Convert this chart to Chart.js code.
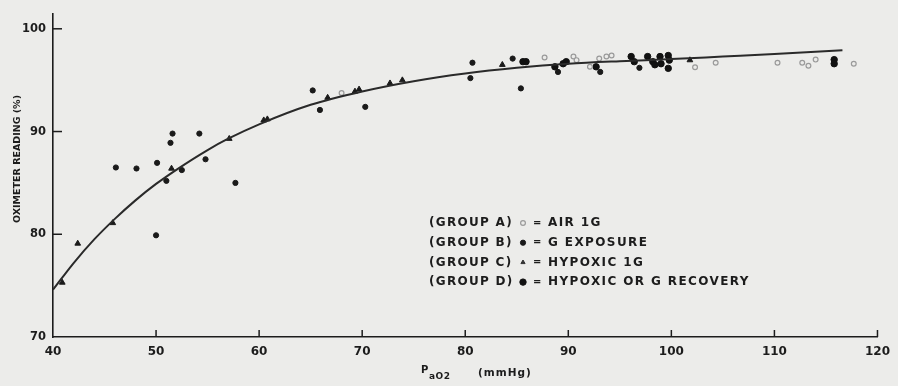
<!DOCTYPE html>
<html>
<head>
<meta charset="utf-8">
<script src="https://cdn.jsdelivr.net/npm/chart.js@4.4.0/dist/chart.umd.min.js"></script>
<style>
html,body{margin:0;padding:0;background:#ececea;}
#wrap{width:898px;height:386px;position:relative;}
</style>
</head>
<body>
<div id="wrap"><canvas id="c" width="898" height="386"></canvas></div>
<script>
// ---- data ----
const xTicks = [40, 50, 60, 70, 80, 90, 100, 110, 120];
const yTicks = [70, 80, 90, 100];

// Group A: Air 1G (open circles)
const groupA_x = [68.0, 87.7, 90.5, 90.8, 92.1, 93.0, 93.7, 94.2, 102.3, 104.3, 110.3, 112.7, 113.3, 114.0, 117.7];
const groupA_y = [93.75, 97.2, 97.3, 96.95, 96.3, 97.1, 97.3, 97.4, 96.25, 96.7, 96.7, 96.7, 96.4, 97.0, 96.6];

// Group B: G exposure (filled dots)
const groupB_x = [46.1, 48.1, 50.1, 50.0, 51.0, 51.4, 51.6, 52.5, 54.2, 54.8, 57.7, 65.2, 65.9, 70.3, 80.7, 80.5, 84.6, 85.4, 89.0, 93.1, 96.9];
const groupB_y = [86.5, 86.4, 86.95, 79.9, 85.2, 88.9, 89.8, 86.25, 89.8, 87.3, 85.0, 94.0, 92.1, 92.4, 96.7, 95.2, 97.1, 94.2, 95.8, 95.8, 96.2];

// Group C: Hypoxic 1G (triangles)
const groupC_x = [40.9, 42.4, 45.8, 51.5, 57.1, 60.45, 60.8, 66.65, 69.3, 69.7, 72.7, 73.9, 83.6, 101.8];
const groupC_y = [75.3, 79.1, 81.1, 86.4, 89.3, 91.1, 91.2, 93.3, 93.9, 94.1, 94.7, 95.0, 96.5, 96.95];

// Group D: Hypoxic or G recovery (larger dots)
const groupD_x = [85.6, 85.9, 88.7, 89.5, 89.8, 92.7, 96.1, 96.4, 97.7, 98.2, 98.4, 98.9, 99.0, 99.7, 99.8, 99.7, 115.8, 115.8];
const groupD_y = [96.8, 96.8, 96.3, 96.6, 96.8, 96.3, 97.3, 96.8, 97.3, 96.8, 96.5, 97.3, 96.6, 97.4, 96.95, 96.15, 97.0, 96.6];

// Fitted curve
const curve_x = [40, 42, 44, 46, 48, 50, 52, 55, 57, 60, 65, 70, 75, 80, 85, 90, 95, 100, 105, 110, 116.6];
const curve_y = [74.6, 77.2, 79.5, 81.5, 83.3, 84.9, 86.3, 88.2, 89.3, 90.7, 92.6, 93.9, 94.9, 95.65, 96.2, 96.6, 96.85, 97.05, 97.3, 97.55, 97.9];

const legendLabels = ["(GROUP A)", "(GROUP B)", "(GROUP C)", "(GROUP D)"];
const legendTexts = ["AIR 1G", "G EXPOSURE", "HYPOXIC 1G", "HYPOXIC OR G RECOVERY"];
const yTitle = "OXIMETER READING (%)";
const xTitleMain = "P";
const xTitleSub = "aO2";
const xTitleUnit = "(mmHg)";

const pts = (xs, ys) => xs.map((x, i) => ({x: x, y: ys[i]}));

const INK = '#1c1c1c';
const FONT = '"DejaVu Sans", sans-serif';

const styleA = {pointStyle: 'circle', radius: 2.4, bg: 'rgba(235,235,233,1)', border: '#9a9a9a', bw: 1.2};
const styleB = {pointStyle: 'circle', radius: 2.6, bg: '#1a1a1a', border: '#1a1a1a', bw: 1};
const styleC = {pointStyle: 'triangle', radius: 3.3, bg: '#1a1a1a', border: '#1a1a1a', bw: 1};
const styleD = {pointStyle: 'circle', radius: 3.2, bg: '#111', border: '#111', bw: 1};
const legendStyles = [styleA, styleB, {pointStyle:'triangle', radius: 2.4, bg:'#333', border:'#333', bw:1}, styleD];

function ds(label, data, s) {
  return {type: 'scatter', label, data, pointStyle: s.pointStyle, pointRadius: s.radius,
    pointBackgroundColor: s.bg, pointBorderColor: s.border, pointBorderWidth: s.bw, showLine: false};
}

function spaced(ctx, text, x, y, spacing) {
  if ('letterSpacing' in ctx) {
    ctx.letterSpacing = spacing + 'px';
    ctx.fillText(text, x, y);
    ctx.letterSpacing = '0px';
    return;
  }
  let cx = x;
  for (const ch of text) { ctx.fillText(ch, cx, y); cx += ctx.measureText(ch).width + spacing; }
}

const decor = {
  id: 'decor',
  beforeDraw(chart) {
    const ctx = chart.ctx;
    ctx.save();
    ctx.fillStyle = '#ececea';
    ctx.fillRect(0, 0, chart.width, chart.height);
    ctx.restore();
  },
  afterDraw(chart) {
    const ctx = chart.ctx;
    const xs = chart.scales.x, ys = chart.scales.y;
    const a = chart.chartArea;
    ctx.save();
    ctx.strokeStyle = INK;
    ctx.lineWidth = 1.5;
    xTicks.forEach(v => {
      if (v === xTicks[0]) return;
      const px = xs.getPixelForValue(v);
      ctx.beginPath(); ctx.moveTo(px, a.bottom); ctx.lineTo(px, a.bottom - 7); ctx.stroke();
    });
    yTicks.forEach(v => {
      if (v === yTicks[0]) return;
      const py = ys.getPixelForValue(v);
      ctx.beginPath(); ctx.moveTo(a.left, py); ctx.lineTo(a.left + 9, py); ctx.stroke();
    });
    ctx.fillStyle = INK;
    // y title
    ctx.save();
    ctx.translate(18, 159);
    ctx.rotate(-Math.PI / 2);
    ctx.font = 'bold 9.5px ' + FONT;
    ctx.textAlign = 'center';
    ctx.textBaseline = 'middle';
    ctx.fillText(yTitle, 0, 0);
    ctx.restore();
    // x title
    ctx.textBaseline = 'alphabetic';
    ctx.textAlign = 'left';
    ctx.font = 'bold 10px ' + FONT;
    ctx.fillText(xTitleMain, 421, 373);
    ctx.font = 'bold 9px ' + FONT;
    spaced(ctx, xTitleSub, 429, 379, 0.5);
    ctx.font = 'bold 10.5px ' + FONT;
    spaced(ctx, xTitleUnit, 478, 376, 1);
    // legend
    ctx.textBaseline = 'middle';
    legendLabels.forEach((lab, i) => {
      const y = 223 + i * 19.7;
      ctx.fillStyle = INK;
      ctx.textAlign = 'left';
      ctx.font = 'bold 12px ' + FONT;
      spaced(ctx, lab, 429, y, 1.3);
      spaced(ctx, legendTexts[i], 548, y, 1.4);
      ctx.font = 'bold 10px ' + FONT;
      ctx.fillText('=', 533, y);
      const s = legendStyles[i];
      ctx.fillStyle = s.bg; ctx.strokeStyle = s.border; ctx.lineWidth = s.bw;
      Chart.helpers.drawPoint(ctx, {pointStyle: s.pointStyle, radius: s.radius, rotation: 0, borderWidth: s.bw}, 523, y);
    });
    ctx.restore();
  }
};

new Chart(document.getElementById('c'), {
  type: 'scatter',
  data: {
    datasets: [
      {type: 'line', label: 'Fit', data: pts(curve_x, curve_y), borderColor: '#2a2a2a', borderWidth: 2,
        pointRadius: 0, cubicInterpolationMode: 'monotone', fill: false},
      ds('Group A', pts(groupA_x, groupA_y), styleA),
      ds('Group B', pts(groupB_x, groupB_y), styleB),
      ds('Group C', pts(groupC_x, groupC_y), styleC),
      ds('Group D', pts(groupD_x, groupD_y), styleD)
    ]
  },
  options: {
    responsive: false,
    animation: false,
    devicePixelRatio: 1,
    layout: {padding: {top: 10, right: 20, left: 0, bottom: 0}},
    plugins: {legend: {display: false}, tooltip: {enabled: false}},
    scales: {
      x: {
        type: 'linear', min: 40, max: 120,
        afterFit(s) { s.height = 49; },
        afterBuildTicks(s) { s.ticks = xTicks.map(v => ({value: v})); },
        grid: {display: false, drawTicks: false},
        border: {display: true, color: INK, width: 1.6},
        ticks: {padding: 8, color: INK, font: {family: FONT, size: 12, weight: 'bold'}, maxRotation: 0}
      },
      y: {
        type: 'linear', min: 70, max: 101.45,
        afterFit(s) { s.width = 53; },
        afterBuildTicks(s) { s.ticks = yTicks.map(v => ({value: v})); },
        grid: {display: false, drawTicks: false},
        border: {display: true, color: INK, width: 1.6},
        ticks: {padding: 7, color: INK, font: {family: FONT, size: 11.5, weight: 'bold'}}
      }
    }
  },
  plugins: [decor]
});
</script>
</body>
</html>
